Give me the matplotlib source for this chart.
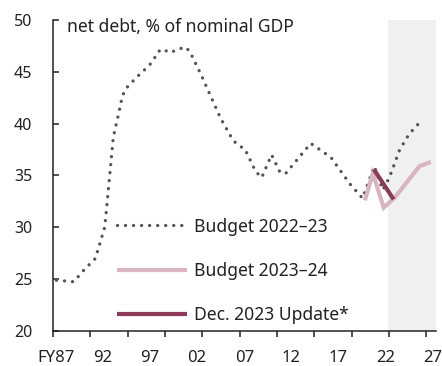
import matplotlib
matplotlib.use("Agg")
import matplotlib.pyplot as plt
import numpy as np

plt.rcParams['font.family'] = ['Noto Sans', 'DejaVu Sans']

# ---- data ----
years_b22 = [1987.07, 1988.9, 1990.0, 1991.2, 1992.2, 1993.1, 1993.7, 1994.07,
             1994.45, 1995.6, 1996.9, 1997.4, 1997.8, 1998.3, 1999.1, 2000.7,
             2001.2, 2002.35, 2004.5, 2005.8, 2006.4, 2007.07, 2008.2, 2008.85,
             2009.9, 2010.8, 2011.4, 2014.05, 2016.2, 2018.2, 2019.55, 2020.8,
             2021.7, 2022.4, 2023.5, 2024.5, 2025.7]
vals_b22 = [24.9, 24.75, 25.9, 27.0, 30.05, 38.7, 41.1, 42.7,
            43.4, 44.5, 45.6, 46.2, 46.9, 47.2, 46.85, 47.4,
            47.0, 44.85, 40.5, 38.4, 37.9, 37.55, 35.4, 34.8,
            37.0, 35.3, 35.2, 38.1, 36.75, 34.2, 32.8, 35.9,
            33.6, 34.8, 37.5, 39.0, 40.2]

years_b23 = [2019.8, 2020.65, 2021.8, 2023.0, 2024.3, 2025.6, 2026.8]
vals_b23 = [32.6, 35.2, 31.9, 32.9, 34.4, 35.9, 36.3]

years_dec = [2020.75, 2021.8, 2022.85]
vals_dec = [35.6, 34.15, 32.7]

label_years = [1987, 1992, 1997, 2002, 2007, 2012, 2017, 2022, 2027]
label_text = ['FY87', '92', '97', '02', '07', '12', '17', '22', '27']
y_ticks = [20, 25, 30, 35, 40, 45, 50]
forecast_start = 2022.3

series_names = ['Budget 2022\u201323', 'Budget 2023\u201324', 'Dec. 2023 Update*']
title = 'net debt, % of nominal GDP'

# ---- figure ----
W, H = 442, 366
fig = plt.figure(figsize=(W / 100, H / 100), dpi=100)
ax = fig.add_axes([53 / W, 1 - 331 / H, (436 - 53) / W, (331 - 20) / H])

xmin, xmax = 1986.7, 2027.35
ax.set_xlim(xmin, xmax)
ax.set_ylim(20, 50)

ax.axvspan(forecast_start, xmax, color='#f0f0f0', zorder=0, lw=0)

dark = '#555555'
pink = '#d8b5c1'
maroon = '#8c3a57'

l1, = ax.plot(years_b22, vals_b22, color=dark, lw=2.4,
              ls=(0, (0.01, 2.4)), dash_capstyle='round', zorder=3)
l2, = ax.plot(years_b23, vals_b23, color=pink, lw=3.0, zorder=4,
              solid_capstyle='butt', solid_joinstyle='miter')
l3, = ax.plot(years_dec, vals_dec, color=maroon, lw=3.0, zorder=5,
              solid_capstyle='butt')

for s in ['top', 'right']:
    ax.spines[s].set_visible(False)
for s in ['left', 'bottom']:
    ax.spines[s].set_linewidth(1.1)
    ax.spines[s].set_color('#222222')

ax.set_yticks(y_ticks)
ax.tick_params(axis='y', direction='in', length=4.5, width=1.1, color='#222222',
               pad=15, labelsize=11.5, labelcolor='#222222')

ax.set_xticks(label_years)
ax.set_xticklabels(label_text)
ax.tick_params(axis='x', which='major', length=0, pad=14, labelsize=12,
               labelcolor='#222222')
ax.set_xticks(np.linspace(1986.72, 2026.31, 11), minor=True)
ax.tick_params(axis='x', which='minor', direction='out', length=4.5, width=1.1,
               color='#222222')

ax.text(14 / 383, (331 - 32) / 311, title, transform=ax.transAxes,
        fontsize=12.6, color='#222222', ha='left', va='baseline')

leg = ax.legend([l1, l2, l3], series_names, loc='upper left',
                bbox_to_anchor=(117 / W, 1 - 217.5 / H), bbox_transform=fig.transFigure,
                frameon=False, fontsize=12.6, handlelength=4.0, handletextpad=0.4,
                labelspacing=1.5, borderpad=0, borderaxespad=0)
for t in leg.get_texts():
    t.set_color('#222222')

fig.savefig('out.png', dpi=100)
